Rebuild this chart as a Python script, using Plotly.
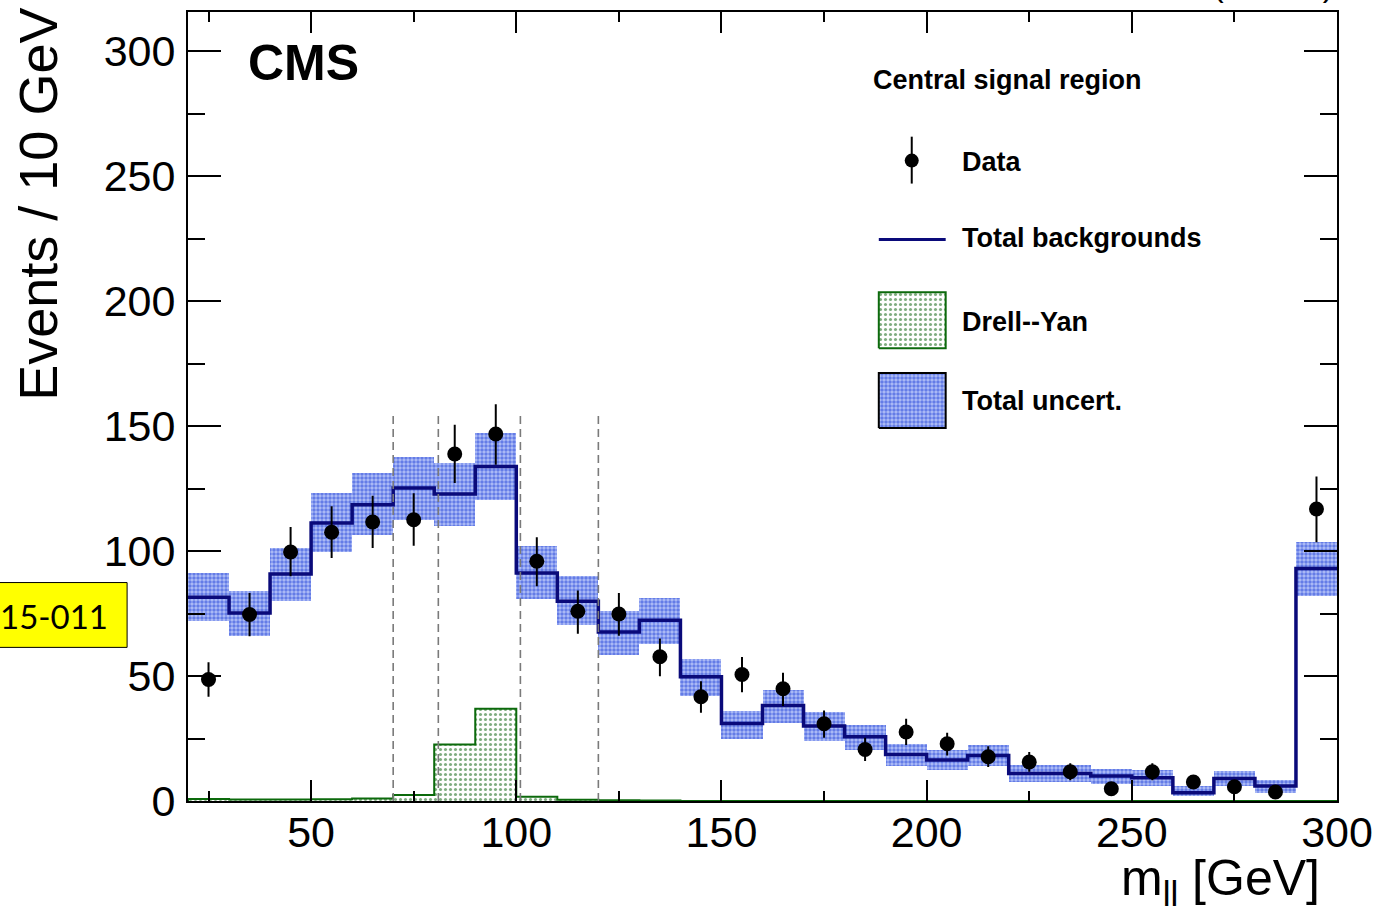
import plotly.graph_objects as go

# ---------------- data ----------------
bin_lo = [20, 30, 40, 50, 60, 70, 80, 90, 100, 110, 120, 130, 140, 150, 160, 170, 180, 190, 200,
          210, 220, 230, 240, 250, 260, 270, 280, 290]
bin_hi = [30, 40, 50, 60, 70, 80, 90, 100, 110, 120, 130, 140, 150, 160, 170, 180, 190, 200, 210,
          220, 230, 240, 250, 260, 270, 280, 290, 300]

total_bkg = [81.5, 75.2, 90.8, 111.2, 118.5, 125.2, 122.8, 133.8, 91.2, 79.9, 67.6, 72.3, 49.7, 31.0,
             38.2, 30.0, 25.7, 18.6, 16.4, 18.2, 11.0, 11.0, 10.0, 9.3, 3.3, 9.0, 6.0, 93.0]
unc_hi = [91.2, 84.2, 101.2, 123.4, 131.1, 137.8, 135.4, 147.4, 101.9, 89.9, 76.2, 81.2, 57.0, 36.2,
          44.6, 35.6, 30.6, 22.9, 20.3, 22.6, 14.3, 14.3, 13.0, 12.3, 6.0, 12.0, 8.3, 103.5]
unc_lo = [71.9, 65.9, 80.2, 99.6, 106.5, 112.5, 110.1, 120.5, 81.0, 70.3, 58.6, 62.9, 42.1, 25.0,
          31.3, 24.2, 20.3, 14.0, 12.3, 14.0, 7.6, 7.6, 6.7, 6.0, 2.0, 6.0, 3.3, 81.9]
drell_yan = [0.8, 0.6, 0.6, 0.7, 1.0, 2.4, 22.6, 36.9, 1.7, 0.5, 0.3, 0.2, 0.0, 0.0,
             0.0, 0.0, 0.0, 0.0, 0.0, 0.0, 0.0, 0.0, 0.0, 0.0, 0.0, 0.0, 0.0, 0.0]

data_x = [25, 35, 45, 55, 65, 75, 85, 95, 105, 115, 125, 135, 145, 155, 165, 175, 185, 195, 205,
          215, 225, 235, 245, 255, 265, 275, 285, 295]
data_y = [48.6, 74.6, 99.6, 107.5, 111.6, 112.5, 138.8, 146.8, 95.9, 75.9, 74.8, 57.7, 41.7, 50.6,
          44.9, 30.9, 20.6, 27.6, 22.9, 17.7, 15.6, 11.7, 4.9, 11.7, 7.6, 5.7, 3.6, 116.8]
data_err_up = [6.9, 8.6, 10.0, 10.4, 10.5, 10.6, 11.7, 11.9, 9.6, 8.3, 8.4, 7.3, 6.2, 7.0,
               6.4, 5.3, 4.7, 5.3, 4.4, 4.2, 4.0, 3.4, 2.2, 3.4, 2.8, 2.4, 1.9, 13.0]
data_err_dn = [6.9, 8.7, 9.7, 10.3, 10.4, 10.4, 11.6, 12.3, 10.0, 9.0, 8.7, 7.8, 6.4, 7.1,
               6.9, 5.6, 4.6, 5.2, 4.7, 4.1, 3.9, 3.4, 2.2, 3.4, 2.8, 2.4, 1.9, 13.3]

cut_lines = [70, 81, 101, 120]
cut_line_top = 155

x_ticks = [50, 100, 150, 200, 250, 300]
x_minor = [25, 75, 125, 175, 225, 275]
y_ticks = [0, 50, 100, 150, 200, 250, 300]
y_minor = [25, 75, 125, 175, 225, 275]

# ---------------- geometry ----------------
W, H = 1383, 920
ML, MR, MT, MB = 188, 44, 10, 119
PW, PH = W - ML - MR, H - MT - MB


def px2x(px):
    return (px - ML) / PW


def px2y(py):
    return (H - MB - py) / PH


NAVY = "#0a0a7a"
GREEN = "#0c6a0c"
BLUE = "#1838d6"
FONT = "Liberation Sans"

centers = [(a + b) / 2 for a, b in zip(bin_lo, bin_hi)]
widths = [b - a for a, b in zip(bin_lo, bin_hi)]
edges = bin_lo + [bin_hi[-1]]

BLUE_PAT = dict(shape=".", fgcolor=BLUE, bgcolor="rgba(70,105,235,0.42)", size=4, solidity=0.6)
GREEN_PAT = dict(shape=".", fgcolor="#005a00", bgcolor="rgba(0,0,0,0)", size=5, solidity=0.3)

fig = go.Figure()

# Drell-Yan filled histogram (pattern)
fig.add_trace(go.Bar(
    x=centers, y=drell_yan, width=widths, base=0,
    marker=dict(color="rgba(0,0,0,0)", line=dict(width=0), pattern=GREEN_PAT),
    showlegend=False, hoverinfo="skip"))
# Drell-Yan outline
fig.add_trace(go.Scatter(
    x=[edges[0]] + edges + [edges[-1]],
    y=[0] + drell_yan + [drell_yan[-1], 0],
    mode="lines", line=dict(color=GREEN, width=2, shape="hv"),
    showlegend=False, hoverinfo="skip"))

# Total uncertainty band
fig.add_trace(go.Bar(
    x=centers, y=[h - l for h, l in zip(unc_hi, unc_lo)], base=unc_lo, width=widths,
    marker=dict(color="rgba(0,0,0,0)", line=dict(width=0), pattern=BLUE_PAT),
    showlegend=False, hoverinfo="skip"))

# Total background step line
fig.add_trace(go.Scatter(
    x=edges, y=total_bkg + [total_bkg[-1]],
    mode="lines", line=dict(color=NAVY, width=3.5, shape="hv"),
    showlegend=False, hoverinfo="skip"))

# Data
fig.add_trace(go.Scatter(
    x=data_x, y=data_y, mode="markers",
    marker=dict(color="black", size=15),
    error_y=dict(type="data", array=data_err_up, arrayminus=data_err_dn,
                 color="black", thickness=2, width=0),
    showlegend=False, hoverinfo="skip", cliponaxis=False))

# ---------------- legend (drawn on overlay axes in plot-fraction coords) ----------------
lx0, lx1 = px2x(880), px2x(947)
gy0, gy1 = px2y(347), px2y(291)
fig.add_trace(go.Scatter(
    x=[lx0, lx1, lx1, lx0, lx0], y=[gy0, gy0, gy1, gy1, gy0], xaxis="x2", yaxis="y2",
    mode="lines", fill="toself", fillcolor="rgba(0,0,0,0)",
    fillpattern=dict(GREEN_PAT, bgcolor="white"),
    line=dict(color=GREEN, width=2), showlegend=False, hoverinfo="skip"))
by0, by1 = px2y(427), px2y(372)
fig.add_trace(go.Scatter(
    x=[lx0, lx1, lx1, lx0, lx0], y=[by0, by0, by1, by1, by0], xaxis="x2", yaxis="y2",
    mode="lines", fill="toself", fillcolor="rgba(0,0,0,0)",
    fillpattern=BLUE_PAT,
    line=dict(color="black", width=2), showlegend=False, hoverinfo="skip"))
fig.add_trace(go.Scatter(
    x=[lx0, lx1], y=[px2y(238), px2y(238)], xaxis="x2", yaxis="y2",
    mode="lines", line=dict(color=NAVY, width=3), showlegend=False, hoverinfo="skip"))
fig.add_trace(go.Scatter(
    x=[px2x(913)], y=[px2y(159)], xaxis="x2", yaxis="y2", mode="markers",
    marker=dict(color="black", size=14),
    error_y=dict(type="data", array=[px2y(135) - px2y(159)], arrayminus=[px2y(159) - px2y(182)],
                 color="black", thickness=2, width=0),
    showlegend=False, hoverinfo="skip"))

shapes = []
for cx in cut_lines:
    shapes.append(dict(type="line", xref="x", yref="y", x0=cx, x1=cx, y0=0, y1=cut_line_top,
                       line=dict(color="#7a7a7a", width=1.6, dash="8px,5px"), layer="above"))
shapes.append(dict(type="rect", xref="paper", yref="paper",
                   x0=px2x(-5), x1=px2x(127), y0=px2y(647), y1=px2y(582),
                   fillcolor="#ffff00", line=dict(color="black", width=1), layer="above"))

LEG_FONT = dict(family=FONT, size=27, color="black")
annotations = [
    dict(text="<b>CMS</b>", xref="paper", yref="paper", x=px2x(246), y=px2y(61),
         xanchor="left", yanchor="middle", showarrow=False,
         font=dict(family=FONT, size=50, color="black")),
    dict(text="<b>Central signal region</b>", xref="paper", yref="paper", x=px2x(872), y=px2y(78),
         xanchor="left", yanchor="middle", showarrow=False, font=LEG_FONT),
    dict(text="<b>Data</b>", xref="paper", yref="paper", x=px2x(961), y=px2y(160),
         xanchor="left", yanchor="middle", showarrow=False, font=LEG_FONT),
    dict(text="<b>Total backgrounds</b>", xref="paper", yref="paper", x=px2x(961), y=px2y(237),
         xanchor="left", yanchor="middle", showarrow=False, font=LEG_FONT),
    dict(text="<b>Drell--Yan</b>", xref="paper", yref="paper", x=px2x(961), y=px2y(321),
         xanchor="left", yanchor="middle", showarrow=False, font=LEG_FONT),
    dict(text="<b>Total uncert.</b>", xref="paper", yref="paper", x=px2x(961), y=px2y(400),
         xanchor="left", yanchor="middle", showarrow=False, font=LEG_FONT),
    dict(text="Events / 10 GeV", xref="paper", yref="paper", x=px2x(37), y=px2y(4),
         xanchor="center", yanchor="top", textangle=-90, showarrow=False,
         font=dict(family=FONT, size=54, color="black")),
    dict(text="m<sub>ll</sub> [GeV]", xref="paper", yref="paper", x=px2x(1324), y=px2y(882),
         xanchor="right", yanchor="middle", showarrow=False,
         font=dict(family=FONT, size=50, color="black")),
    dict(text="15-011", xref="paper", yref="paper", x=px2x(-2), y=px2y(616),
         xanchor="left", yanchor="middle", showarrow=False,
         font=dict(family="Lato", size=33, color="black")),
    dict(text="(13 TeV)", xref="paper", yref="paper", x=px2x(1337), y=px2y(3),
         xanchor="right", yanchor="bottom", showarrow=False,
         font=dict(family=FONT, size=32, color="black")),
]

fig.update_layout(
    width=W, height=H,
    margin=dict(l=ML, r=MR, t=MT, b=MB, pad=0),
    paper_bgcolor="white", plot_bgcolor="white",
    barmode="overlay", bargap=0,
    showlegend=False,
    shapes=shapes, annotations=annotations,
    xaxis=dict(range=[20, 300], tickvals=x_ticks, ticktext=[str(v) for v in x_ticks],
               ticks="inside", ticklen=21, tickwidth=2, tickcolor="black",
               minor=dict(tickvals=x_minor, ticks="inside", ticklen=10, tickwidth=2, tickcolor="black"),
               showline=True, linewidth=2, linecolor="black", mirror="ticks",
               showgrid=False, zeroline=False, layer="above traces",
               tickfont=dict(family=FONT, size=43, color="black"), ticklabelstandoff=-8),
    yaxis=dict(range=[0, 315.6], tickvals=y_ticks, ticktext=[str(v) for v in y_ticks],
               ticks="inside", ticklen=33, tickwidth=2, tickcolor="black",
               minor=dict(tickvals=y_minor, ticks="inside", ticklen=17, tickwidth=2, tickcolor="black"),
               showline=True, linewidth=2, linecolor="black", mirror="ticks",
               showgrid=False, zeroline=False, layer="above traces",
               tickfont=dict(family=FONT, size=43, color="black"), ticklabelstandoff=2),
    xaxis2=dict(overlaying="x", range=[0, 1], visible=False, fixedrange=True),
    yaxis2=dict(overlaying="y", range=[0, 1], visible=False, fixedrange=True),
)

fig.write_html("out.html")
